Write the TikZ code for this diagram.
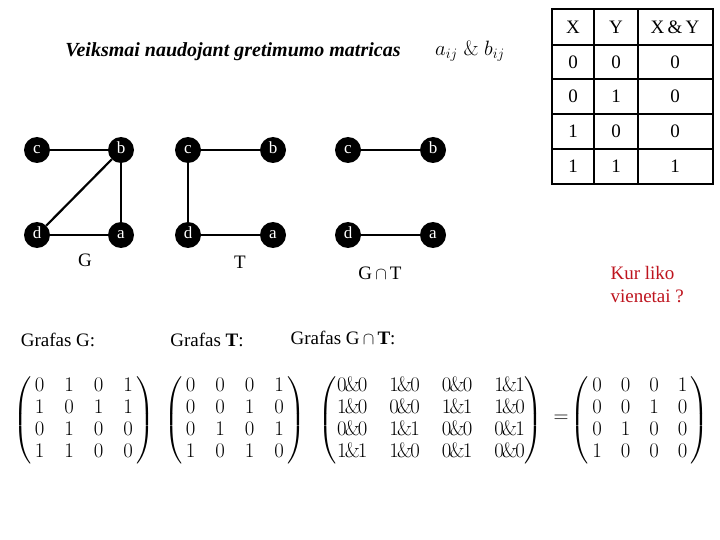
\documentclass[tikz,border=0pt]{standalone}
\usepackage{amsmath}
\usepackage[no-math]{fontspec}
\setmainfont{Liberation Serif}
\usetikzlibrary{positioning}
\definecolor{kurred}{RGB}{190,20,30}
\newcommand{\andd}[2]{#1\mkern-1.5mu\&\mkern-1.5mu#2}
\tikzset{
  vert/.style={circle, fill=black, text=white, inner sep=0pt, minimum size=26pt,
    text height=1.6ex, text depth=0.2ex, font=\fontsize{17}{17}\selectfont},
  edge/.style={line width=2.2pt},
  tabline/.style={line width=2pt},
  txt/.style={font=\fontsize{19}{22}\selectfont},
  mat/.style={font=\fontsize{20}{22}\selectfont},
}

\begin{document}
\begin{tikzpicture}[x=1pt,y=-1pt]
\useasboundingbox (0,0) rectangle (720,540);

% Title
\node[font=\fontsize{20}{22}\selectfont\bfseries\itshape] (title) at (233,52) {Veiksmai naudojant gretimumo matricas};
\node[font=\fontsize{21}{22}\selectfont] (aij) at (470,51) {$a_{ij}\;\&\;b_{ij}$};

% Graph G
\node[vert] (gc) at (37,150) {c};
\node[vert] (gb) at (121,150) {b};
\node[vert] (gd) at (37,235) {d};
\node[vert] (ga) at (121,235) {a};
\draw[edge] (gc) -- (gb);
\draw[edge] (gb) -- (ga);
\draw[edge] (gd) -- (ga);
\draw[edge] (gd) -- (gb);
\node[txt] (gname) at (85,260) {G};

% Graph T
\node[vert] (tc) at (188,150) {c};
\node[vert] (tb) at (273,150) {b};
\node[vert] (td) at (188,235) {d};
\node[vert] (ta) at (273,235) {a};
\draw[edge] (tc) -- (tb);
\draw[edge] (tc) -- (td);
\draw[edge] (td) -- (ta);
\node[txt] (tname) at (240,262) {T};

% Graph G cap T
\node[vert] (sc) at (348,150) {c};
\node[vert] (sb) at (433,150) {b};
\node[vert] (sd) at (348,235) {d};
\node[vert] (sa) at (433,235) {a};
\draw[edge] (sc) -- (sb);
\draw[edge] (sd) -- (sa);
\node[txt] (sname) at (380,273) {G\,$\cap$\,T};

% Truth table
\draw[tabline] (552,9) rectangle (713,184);
\foreach \y in {45,79,114,149}
  \draw[tabline] (552,\y) -- (713,\y);
\draw[tabline] (594,9) -- (594,184);
\draw[tabline] (638,9) -- (638,184);
\foreach \a/\b/\c [count=\i] in {X/Y/X\,\&\,Y, 0/0/0, 0/1/0, 1/0/0, 1/1/1} {
  \node[txt] (x\i) at (573,{27+34.8*(\i-1)}) {\a};
  \node[txt] (y\i) at (616,{27+34.8*(\i-1)}) {\b};
  \node[txt] (z\i) at (675,{27+34.8*(\i-1)}) {\c};
}

% Kur liko
\node[txt, text=kurred, align=left, anchor=north west, font=\fontsize{19}{23}\selectfont] (kur) at (607,263) {Kur liko\\vienetai ?};

% Matrices
\node[txt] (lg) at (58,340) {Grafas G:};
\node[txt] (lt) at (207,340) {Grafas \textbf{T}:};
\node[txt] (lgt) at (343,338) {Grafas G\,$\cap$\,\textbf{T}:};

\node[mat] (mg) at (84,420) {\setlength{\arraycolsep}{10pt}$\left(\,\begin{matrix}0&1&0&1\\1&0&1&1\\0&1&0&0\\1&1&0&0\end{matrix}\,\right)$};
\node[mat] (mt) at (235,420) {\setlength{\arraycolsep}{10pt}$\left(\,\begin{matrix}0&0&0&1\\0&0&1&0\\0&1&0&1\\1&0&1&0\end{matrix}\,\right)$};
\node[mat] (mgt) at (431,420) {\setlength{\arraycolsep}{11pt}$\left(\begin{matrix}
\andd00&\andd10&\andd00&\andd11\\
\andd10&\andd00&\andd11&\andd10\\
\andd00&\andd11&\andd00&\andd01\\
\andd11&\andd10&\andd01&\andd00\end{matrix}\right)$};
\node[mat] (eq) at (561,419) {$=$};
\node[mat] (mres) at (640,420) {\setlength{\arraycolsep}{9.5pt}$\left(\,\begin{matrix}0&0&0&1\\0&0&1&0\\0&1&0&0\\1&0&0&0\end{matrix}\,\right)$};
\end{tikzpicture}
\end{document}
